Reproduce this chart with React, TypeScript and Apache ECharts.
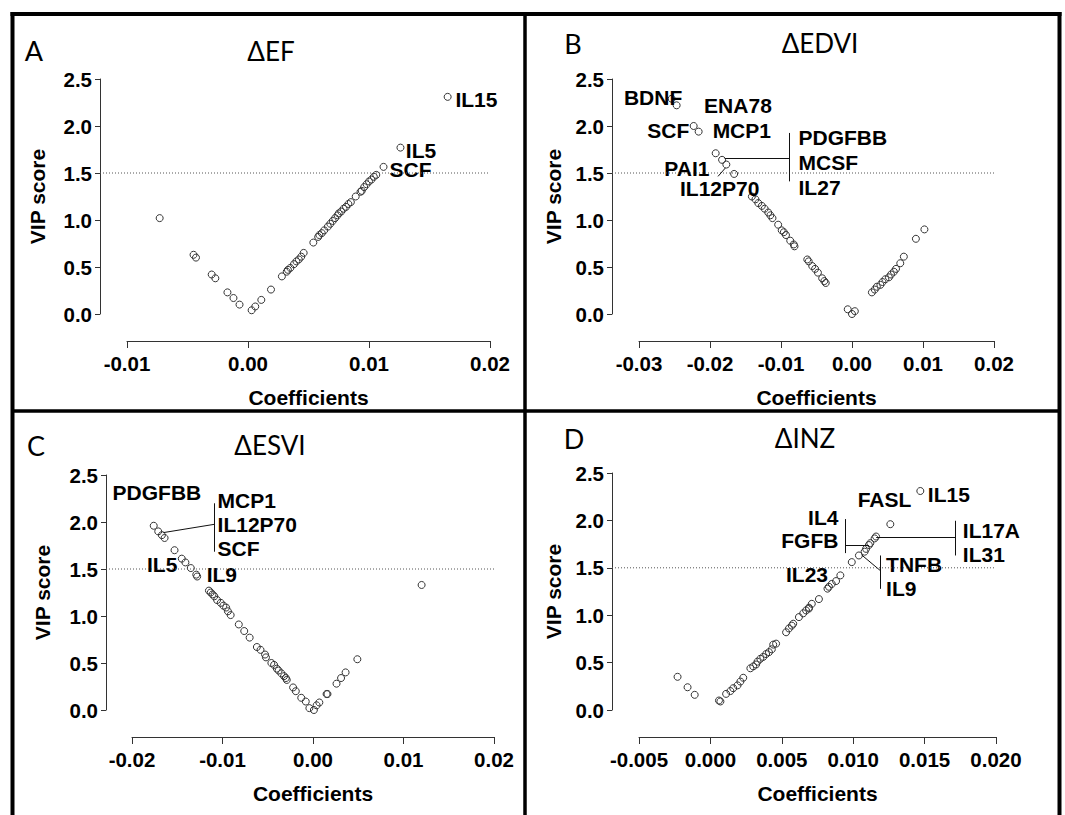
import React, { useEffect, useRef } from "react";
import * as echarts from "echarts";

// ---------- DATA ----------
const efPoints: [number, number][] = [
  [-0.0073, 1.02], [-0.0045, 0.63], [-0.0043, 0.6], [-0.003, 0.42], [-0.0027, 0.38], [-0.0017, 0.23], [-0.0012, 0.17], [-0.0007, 0.1],
  [0.0003, 0.04], [0.0006, 0.08], [0.0011, 0.15], [0.0019, 0.26], [0.0028, 0.4], [0.0032, 0.45], [0.0033, 0.47], [0.0035, 0.49],
  [0.0038, 0.53], [0.004, 0.56], [0.0042, 0.58], [0.0044, 0.61], [0.0046, 0.65], [0.0054, 0.76], [0.0058, 0.82], [0.0059, 0.84],
  [0.0061, 0.86], [0.0063, 0.89], [0.0066, 0.93], [0.0068, 0.96], [0.007, 0.99], [0.0072, 1.02], [0.0074, 1.05], [0.0075, 1.07],
  [0.0077, 1.09], [0.0079, 1.12], [0.0081, 1.14], [0.0083, 1.17], [0.0085, 1.19], [0.0089, 1.25], [0.0093, 1.3], [0.0094, 1.31],
  [0.0096, 1.35], [0.0098, 1.38], [0.01, 1.41], [0.0102, 1.43], [0.0104, 1.46], [0.0106, 1.48], [0.0112, 1.565], [0.0126, 1.77],
  [0.0165, 2.31],
];
const edviPoints: [number, number][] = [
  [-0.0254, 2.29], [-0.0247, 2.22], [-0.0223, 2.0], [-0.0216, 1.94], [-0.0192, 1.71], [-0.0183, 1.64], [-0.0177, 1.59], [-0.0166, 1.49],
  [-0.0141, 1.25], [-0.0136, 1.22], [-0.0132, 1.18], [-0.0127, 1.15], [-0.0123, 1.12], [-0.0118, 1.08], [-0.0115, 1.05], [-0.0112, 1.02],
  [-0.0104, 0.95], [-0.0099, 0.89], [-0.0096, 0.87], [-0.0093, 0.84], [-0.0087, 0.78], [-0.0082, 0.74], [-0.0081, 0.72], [-0.0063, 0.58],
  [-0.0061, 0.56], [-0.0056, 0.51], [-0.0052, 0.48], [-0.0048, 0.44], [-0.0042, 0.38], [-0.0039, 0.35], [-0.0037, 0.33],
  [-0.0006, 0.05], [0.0, 0.0], [0.0004, 0.03],
  [0.0028, 0.23], [0.0032, 0.26], [0.0035, 0.29], [0.004, 0.31], [0.0043, 0.34], [0.0047, 0.37], [0.0052, 0.39], [0.0055, 0.42],
  [0.0059, 0.45], [0.0062, 0.48], [0.0068, 0.54], [0.0073, 0.61], [0.009, 0.8], [0.0102, 0.9],
];
const esviPoints: [number, number][] = [
  [-0.0176, 1.96], [-0.0171, 1.9], [-0.0167, 1.86], [-0.0164, 1.83], [-0.0153, 1.7], [-0.0145, 1.61], [-0.0141, 1.57], [-0.0135, 1.51],
  [-0.0129, 1.44], [-0.0128, 1.42], [-0.0115, 1.27], [-0.0113, 1.25], [-0.0111, 1.23], [-0.0109, 1.21], [-0.0106, 1.17], [-0.0102, 1.14],
  [-0.0099, 1.11], [-0.0096, 1.09], [-0.0094, 1.05], [-0.0091, 1.01], [-0.0082, 0.91], [-0.0076, 0.84], [-0.007, 0.77], [-0.0062, 0.67],
  [-0.0058, 0.64], [-0.0053, 0.59], [-0.0052, 0.56], [-0.0046, 0.5], [-0.0043, 0.48], [-0.004, 0.44], [-0.0038, 0.42], [-0.0035, 0.39],
  [-0.0032, 0.36], [-0.003, 0.34], [-0.0029, 0.32], [-0.0022, 0.24], [-0.0019, 0.2], [-0.0013, 0.13], [-0.0008, 0.09], [-0.0004, 0.02],
  [0.0001, 0.0], [0.0004, 0.05], [0.0007, 0.08], [0.0015, 0.17], [0.0016, 0.17], [0.0026, 0.28], [0.0031, 0.34], [0.0036, 0.4],
  [0.0049, 0.54], [0.012, 1.33],
];
const inzPoints: [number, number][] = [
  [-0.0023, 0.35], [-0.0016, 0.24], [-0.0011, 0.16], [0.0006, 0.1], [0.0007, 0.09], [0.0011, 0.17], [0.0014, 0.2], [0.0016, 0.23],
  [0.0019, 0.26], [0.0021, 0.3], [0.0023, 0.34], [0.0028, 0.44], [0.003, 0.46], [0.0032, 0.48], [0.0033, 0.51], [0.0035, 0.54],
  [0.0037, 0.56], [0.0039, 0.59], [0.0041, 0.61], [0.0043, 0.64], [0.0044, 0.69], [0.0046, 0.7], [0.0053, 0.82], [0.0055, 0.86],
  [0.0057, 0.89], [0.0058, 0.91], [0.0062, 0.98], [0.0065, 1.02], [0.0067, 1.05], [0.0069, 1.07], [0.0069, 1.08], [0.0071, 1.12],
  [0.0076, 1.17], [0.0082, 1.28], [0.0083, 1.3], [0.0085, 1.33], [0.0088, 1.36], [0.0091, 1.42], [0.0099, 1.56], [0.0104, 1.63],
  [0.0108, 1.67], [0.0109, 1.7], [0.0111, 1.74], [0.0112, 1.76], [0.0115, 1.81], [0.0116, 1.83], [0.0126, 1.96], [0.0147, 2.31],
];

const vipThreshold = 1.5;
const yTicks = { min: 0, max: 2.5, interval: 0.5 };

type Lab = { name: string; x: number; y: number; right?: boolean };
const efLabels: Lab[] = [
  { name: "IL15", x: 0.0171, y: 2.28 },
  { name: "IL5", x: 0.013, y: 1.74 },
  { name: "SCF", x: 0.01165, y: 1.54 },
];
const edviLabels: Lab[] = [
  { name: "BDNF", x: -0.0322, y: 2.305 },
  { name: "SCF", x: -0.0289, y: 1.95 },
  { name: "ENA78", x: -0.0209, y: 2.22 },
  { name: "MCP1", x: -0.0197, y: 1.95 },
  { name: "PAI1", x: -0.0265, y: 1.553 },
  { name: "IL12P70", x: -0.0243, y: 1.33 },
  { name: "PDGFBB", x: -0.0076, y: 1.879 },
  { name: "MCSF", x: -0.0076, y: 1.613 },
  { name: "IL27", x: -0.0076, y: 1.348 },
];
const esviLabels: Lab[] = [
  { name: "PDGFBB", x: -0.0222, y: 2.316 },
  { name: "MCP1", x: -0.0106, y: 2.234 },
  { name: "IL12P70", x: -0.0106, y: 1.975 },
  { name: "SCF", x: -0.0106, y: 1.713 },
  { name: "IL5", x: -0.0184, y: 1.543 },
  { name: "IL9", x: -0.0118, y: 1.443 },
];
const inzLabels: Lab[] = [
  { name: "FASL", x: 0.01028, y: 2.218 },
  { name: "IL15", x: 0.01519, y: 2.278 },
  { name: "IL4", x: 0.009, y: 2.032, right: true },
  { name: "FGFB", x: 0.009, y: 1.785, right: true },
  { name: "IL23", x: 0.00526, y: 1.433 },
  { name: "IL17A", x: 0.01764, y: 1.891 },
  { name: "IL31", x: 0.01764, y: 1.637 },
  { name: "TNFB", x: 0.01227, y: 1.532 },
  { name: "IL9", x: 0.01227, y: 1.285 },
];

const efLeaders: number[][] = [];
const edviLeaders: number[][] = [
  [-0.00883, 1.926, -0.00883, 1.411],
  [-0.01793, 1.656, -0.00883, 1.656],
  [-0.01887, 1.464, -0.01784, 1.553],
];
const esviLeaders: number[][] = [
  [-0.01092, 2.199, -0.01092, 1.684],
  [-0.01654, 1.887, -0.01092, 1.975],
];
const inzLeaders: number[][] = [
  [0.00946, 2.014, 0.00946, 1.655],
  [0.00946, 1.743, 0.0111, 1.743],
  [0.01713, 1.996, 0.01713, 1.63],
  [0.01161, 1.82, 0.01713, 1.82],
  [0.01192, 1.63, 0.01192, 1.278],
  [0.01058, 1.637, 0.01192, 1.468],
];

// ---------- LAYOUT ----------
const FONT = '"Liberation Sans", Arial, sans-serif';
const TFONT = 'Lato, "Open Sans", sans-serif';

type Panel = {
  letter: string; title: string;
  letterPos: [number, number]; titlePos: [number, number];
  left: number; width: number; top: number; height: number;
  yAxisX: number; xAxisY: number; yNameGap: number;
  xMin: number; xMax: number; xInterval: number; xDigits: number;
  points: [number, number][]; labels: Lab[]; leaders: number[][];
};

const panels: Panel[] = [
  { letter: "A", title: "ΔEF", letterPos: [34, 50], titlePos: [271, 51], left: 127, width: 363, top: 79, height: 235,
    yAxisX: 100, xAxisY: 341, yNameGap: 52, xMin: -0.01, xMax: 0.02, xInterval: 0.01, xDigits: 2,
    points: efPoints, labels: efLabels, leaders: efLeaders },
  { letter: "B", title: "ΔEDVI", letterPos: [573, 43], titlePos: [820, 43], left: 639, width: 355, top: 79, height: 235,
    yAxisX: 612, xAxisY: 341, yNameGap: 48, xMin: -0.03, xMax: 0.02, xInterval: 0.01, xDigits: 2,
    points: edviPoints, labels: edviLabels, leaders: edviLeaders },
  { letter: "C", title: "ΔESVI", letterPos: [36, 445], titlePos: [270, 445], left: 132, width: 362, top: 475, height: 235,
    yAxisX: 106, xAxisY: 737, yNameGap: 53, xMin: -0.02, xMax: 0.02, xInterval: 0.01, xDigits: 2,
    points: esviPoints, labels: esviLabels, leaders: esviLeaders },
  { letter: "D", title: "ΔINZ", letterPos: [574, 438], titlePos: [805, 438], left: 639, width: 357, top: 473, height: 237,
    yAxisX: 612, xAxisY: 737, yNameGap: 48, xMin: -0.005, xMax: 0.02, xInterval: 0.005, xDigits: 3,
    points: inzPoints, labels: inzLabels, leaders: inzLeaders },
];

function buildOption() {
  const grid: any[] = [];
  const xAxis: any[] = [];
  const yAxis: any[] = [];
  const series: any[] = [];
  const graphic: any[] = [];
  const axisColor = "#333";

  panels.forEach((p, i) => {
    const gi = i * 2;
    grid.push({ left: p.left, top: p.top, width: p.width, height: p.height });
    grid.push({ left: p.yAxisX, top: p.top, width: p.left + p.width - p.yAxisX, height: p.height });
    xAxis.push({
      gridIndex: gi, type: "value", min: p.xMin, max: p.xMax, interval: p.xInterval,
      position: "bottom",
      offset: p.xAxisY - (p.top + p.height),
      axisLine: { show: true, onZero: false, lineStyle: { color: axisColor, width: 1 } },
      axisTick: { show: true, length: 7, lineStyle: { color: axisColor, width: 1 } },
      axisLabel: { color: "#000", fontFamily: FONT, fontWeight: "bold", fontSize: 20.5, margin: 12,
        formatter: (v: number) => v.toFixed(p.xDigits) },
      splitLine: { show: false },
      name: "Coefficients", nameLocation: "middle", nameGap: 46,
      nameTextStyle: { color: "#000", fontFamily: FONT, fontWeight: "bold", fontSize: 21 },
    });
    yAxis.push({
      gridIndex: gi, type: "value", min: yTicks.min, max: yTicks.max, interval: yTicks.interval,
      position: "left",
      offset: p.left - p.yAxisX,
      axisLine: { show: true, onZero: false, lineStyle: { color: axisColor, width: 1 } },
      axisTick: { show: true, length: 5, lineStyle: { color: axisColor, width: 1 } },
      axisLabel: { color: "#000", fontFamily: FONT, fontWeight: "bold", fontSize: 20.5, margin: 8,
        formatter: (v: number) => v.toFixed(1) },
      splitLine: { show: false },
      name: "VIP score", nameLocation: "middle", nameGap: p.yNameGap, nameRotate: 90,
      nameTextStyle: { color: "#000", fontFamily: FONT, fontWeight: "bold", fontSize: 21 },
    });
    xAxis.push({ gridIndex: gi + 1, type: "value", min: 0, max: 1, show: false });
    yAxis.push({ gridIndex: gi + 1, type: "value", min: yTicks.min, max: yTicks.max, show: false });

    series.push({
      type: "line", xAxisIndex: gi + 1, yAxisIndex: gi + 1, silent: true, symbol: "none",
      data: [[0, vipThreshold], [1, vipThreshold]],
      lineStyle: { color: "#555", width: 1, type: [1, 2] },
    });
    series.push({
      type: "scatter", xAxisIndex: gi, yAxisIndex: gi, silent: true, symbol: "circle", symbolSize: 7,
      data: p.points,
      itemStyle: { color: "rgba(0,0,0,0)", borderColor: "#333", borderWidth: 1, opacity: 1 },
    });
    series.push({
      type: "scatter", xAxisIndex: gi, yAxisIndex: gi, silent: true, clip: false, symbolSize: 1,
      itemStyle: { color: "rgba(0,0,0,0)" },
      data: p.labels.map((l) => ({
        name: l.name, value: [l.x, l.y],
        label: { show: true, position: l.right ? "left" : "right", distance: 0, formatter: "{b}",
          color: "#000", opacity: 1, fontFamily: FONT, fontWeight: "bold", fontSize: 21 },
      })),
      markLine: {
        silent: true, symbol: ["none", "none"], animation: false,
        label: { show: false },
        lineStyle: { color: "#111", width: 1, type: "solid" },
        data: p.leaders.map((l) => [{ coord: [l[0], l[1]] }, { coord: [l[2], l[3]] }]),
      },
    });

    graphic.push({
      type: "text", x: p.letterPos[0], y: p.letterPos[1],
      style: { text: p.letter, fontFamily: TFONT, fontSize: 27, fill: "#000", textAlign: "center", textVerticalAlign: "middle" },
    });
    graphic.push({
      type: "text", x: p.titlePos[0], y: p.titlePos[1],
      style: { text: p.title, fontFamily: TFONT, fontSize: 26, fill: "#000", textAlign: "center", textVerticalAlign: "middle" },
    });
  });

  const frame = { stroke: "#000", lineWidth: 4 };
  graphic.push({ type: "line", shape: { x1: 12.5, y1: 12, x2: 12.5, y2: 815 }, style: frame });
  graphic.push({ type: "line", shape: { x1: 10.5, y1: 14, x2: 1061.5, y2: 14 }, style: frame });
  graphic.push({ type: "line", shape: { x1: 1059.5, y1: 12, x2: 1059.5, y2: 815 }, style: frame });
  graphic.push({ type: "line", shape: { x1: 525, y1: 14, x2: 525, y2: 815 }, style: { stroke: "#000", lineWidth: 3.5 } });
  graphic.push({ type: "line", shape: { x1: 12.5, y1: 411, x2: 1059.5, y2: 411 }, style: { stroke: "#000", lineWidth: 3.5 } });

  return { animation: false, backgroundColor: "#fff", grid, xAxis, yAxis, series, graphic };
}

export default function App() {
  const ref = useRef<HTMLDivElement>(null);
  useEffect(() => {
    if (!ref.current) return;
    const chart = echarts.init(ref.current, undefined, { renderer: "svg" });
    chart.setOption(buildOption() as any);
    return () => chart.dispose();
  }, []);
  return <div ref={ref} style={{ position: "fixed", left: 0, top: 0, width: 1065, height: 815, background: "#fff" }} />;
}
